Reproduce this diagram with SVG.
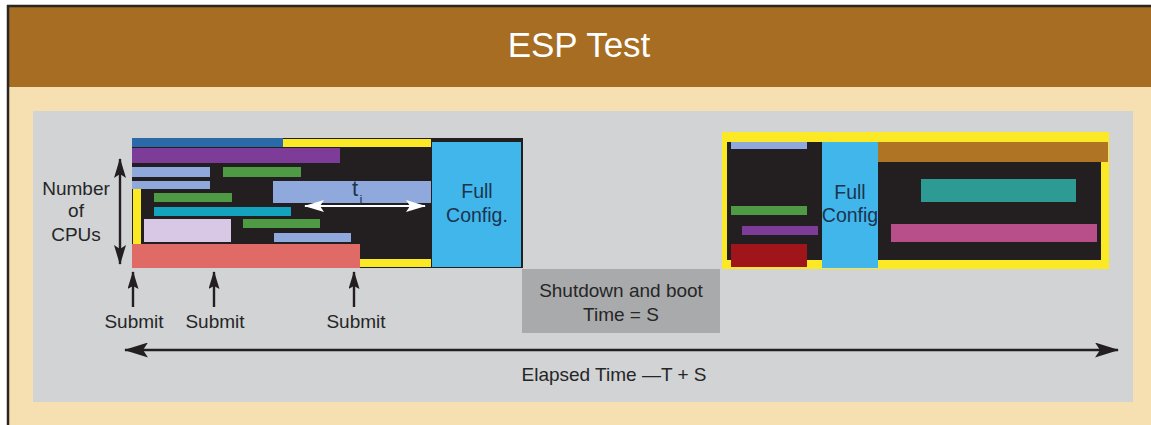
<svg xmlns="http://www.w3.org/2000/svg" width="1151" height="425" viewBox="0 0 1151 425">
<defs>
<style>
.lbl{font-family:"Liberation Sans",Arial,sans-serif;font-size:19px;fill:#262626;text-anchor:middle}
.cfg{font-family:"Liberation Sans",Arial,sans-serif;font-size:19.5px;fill:#1c3450;text-anchor:middle}
.ax{stroke:#231f20;stroke-width:2.4;fill:none}
.wx{stroke:#ffffff;stroke-width:2.2;fill:none}
</style>
<marker id="ah" viewBox="0 0 20 12" refX="19" refY="6" markerWidth="20" markerHeight="12" markerUnits="userSpaceOnUse" orient="auto-start-reverse"><path d="M0,0 L20,6 L0,12 L4,6 Z" fill="#231f20"/></marker>
<marker id="ahS" viewBox="0 0 18 11" refX="17" refY="5.5" markerWidth="18" markerHeight="11" markerUnits="userSpaceOnUse" orient="auto-start-reverse"><path d="M0,0 L18,5.5 L0,11 L3,5.5 Z" fill="#231f20"/></marker>
<marker id="ahL" viewBox="0 0 24 15" refX="23" refY="7.5" markerWidth="24" markerHeight="15" markerUnits="userSpaceOnUse" orient="auto-start-reverse"><path d="M0,0 L24,7.5 L0,15 L5,7.5 Z" fill="#231f20"/></marker>
<marker id="ahW" viewBox="0 0 20 12" refX="19" refY="6" markerWidth="20" markerHeight="12" markerUnits="userSpaceOnUse" orient="auto-start-reverse"><path d="M0,0 L20,6 L0,12 L4,6 Z" fill="#ffffff"/></marker>
</defs>
<g id="background">
<rect x="0" y="0" width="1151" height="425" fill="#ffffff"/>
<rect x="7" y="5" width="1144" height="420" fill="#f6dfb1"/>
<rect x="7" y="5" width="1144" height="82" fill="#a66d23"/>
<line x1="7" y1="6" x2="1151" y2="6" stroke="#2a2624" stroke-width="2.5"/>
<line x1="8" y1="5" x2="8" y2="425" stroke="#2a2624" stroke-width="2.5"/>
<text x="579" y="57" font-family="Liberation Sans, Arial, sans-serif" font-size="35" fill="#ffffff" text-anchor="middle">ESP Test</text>
<rect x="33" y="111" width="1100" height="291" fill="#d1d3d5"/>
</g>
<g id="cpus-label">
<text class="lbl" x="76" y="195">Number</text>
<text class="lbl" x="76" y="217">of</text>
<text class="lbl" x="76" y="241">CPUs</text>
</g>
<g id="left-block">
<rect x="132" y="138" width="391" height="130" fill="#231f20"/>
<rect x="132" y="138" width="151" height="9" fill="#2a6aa8"/>
<rect x="283" y="139" width="148" height="8" fill="#fbe925"/>
<rect x="132" y="148" width="208" height="15" fill="#7d3c98"/>
<rect x="132" y="167" width="78" height="10" fill="#8fa9dc"/>
<rect x="223" y="167" width="78" height="10" fill="#4e9a45"/>
<rect x="132" y="181" width="78" height="8" fill="#8fa9dc"/>
<rect x="273" y="181" width="158" height="22" fill="#8fa9dc"/>
<rect x="133" y="189" width="8" height="55" fill="#fbe925"/>
<rect x="154" y="193" width="78" height="9" fill="#4e9a45"/>
<rect x="154" y="207" width="137" height="9" fill="#14a3bf"/>
<rect x="144" y="219" width="87" height="23" fill="#d8c8e6"/>
<rect x="243" y="219" width="77" height="9" fill="#4e9a45"/>
<rect x="274" y="233" width="77" height="9" fill="#8fa9dc"/>
<rect x="132" y="244" width="228" height="24" fill="#e06a66"/>
<rect x="360" y="259" width="71" height="8" fill="#fbe925"/>
<text x="355" y="196" font-family="Liberation Sans, Arial, sans-serif" font-size="22" fill="#1c3450" text-anchor="middle">t</text>
<text x="361" y="204" font-family="Liberation Sans, Arial, sans-serif" font-size="13" fill="#1c3450" text-anchor="middle">i</text>
</g>
<g id="left-full-config">
<rect x="432" y="142" width="89" height="125" fill="#41b6ea"/>
<text class="cfg" x="477" y="198">Full</text>
<text class="cfg" x="477" y="222">Config.</text>
</g>
<g id="shutdown">
<rect x="522" y="269" width="198" height="64" fill="#a9aaac"/>
<text class="lbl" x="621" y="297">Shutdown and boot</text>
<text class="lbl" x="621" y="321">Time = S</text>
</g>
<g id="right-block">
<rect x="722" y="132" width="387" height="137" fill="#fbe925"/>
<rect x="727" y="142" width="374" height="118" fill="#231f20"/>
<rect x="731" y="142" width="76" height="7" fill="#8fa9dc"/>
<rect x="731" y="206" width="76" height="9" fill="#4e9a45"/>
<rect x="742" y="226" width="76" height="9" fill="#7d3c98"/>
<rect x="731" y="244" width="76" height="23" fill="#a01519"/>
<rect x="878" y="142" width="230" height="20" fill="#b07425"/>
<rect x="921" y="179" width="155" height="23" fill="#2e9a94"/>
<rect x="891" y="224" width="206" height="18" fill="#b84e8a"/>
</g>
<g id="right-full-config">
<rect x="822" y="142" width="56" height="126" fill="#41b6ea"/>
<text class="cfg" x="850" y="199">Full</text>
<text class="cfg" x="850" y="222">Config</text>
</g>
<g id="submit-labels">
<text class="lbl" x="134" y="328">Submit</text>
<text class="lbl" x="215" y="328">Submit</text>
<text class="lbl" x="356" y="328">Submit</text>
<text class="lbl" x="614" y="381">Elapsed Time —T + S</text>
</g>
<g id="connectors">
<line class="ax" x1="120" y1="159" x2="120" y2="264" marker-start="url(#ah)" marker-end="url(#ah)"/>
<line class="wx" x1="305" y1="206" x2="425" y2="206" marker-start="url(#ahW)" marker-end="url(#ahW)"/>
<line class="ax" x1="133" y1="307" x2="133" y2="272" marker-end="url(#ahS)"/>
<line class="ax" x1="214" y1="307" x2="214" y2="272" marker-end="url(#ahS)"/>
<line class="ax" x1="354" y1="307" x2="354" y2="272" marker-end="url(#ahS)"/>
<line class="ax" x1="125" y1="350" x2="1118" y2="350" marker-start="url(#ahL)" marker-end="url(#ahL)"/>
</g>
</svg>
